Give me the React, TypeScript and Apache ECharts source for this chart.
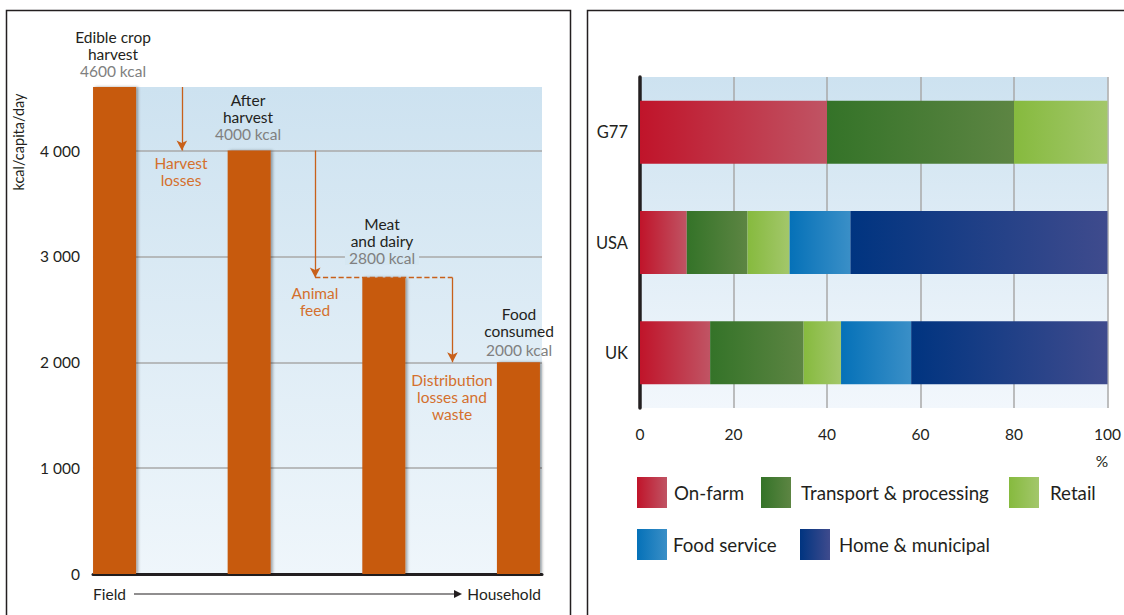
import React, { useEffect, useRef } from "react";
import * as echarts from "echarts";

// ---- Left panel data: food energy along the supply chain (kcal/capita/day)
const stageNames = ["Edible crop harvest", "After harvest", "Meat and dairy", "Food consumed"];
const stagePositions = [0, 1, 2, 3];
const stageValues = [4600, 4000, 2800, 2000];
// loss arrows: [x position, from value, to value]
const lossArrows = [
  [0.5, 4600, 4000],
  [1.49, 4000, 2800],
  [2.51, 2800, 2000],
];
const dashedLevel = 2800;

// ---- Right panel data: share of waste by stage (%)
const regions = ["UK", "USA", "G77"];
const onFarm = [15, 10, 40];
const transport = [20, 13, 40];
const retail = [8, 9, 20];
const foodService = [15, 13, 0];
const homeMunicipal = [42, 55, 0];
const wasteNames = ["On-farm", "Transport & processing", "Retail", "Food service", "Home & municipal"];

const FONT = 'Lato, "Noto Sans", "DejaVu Sans", sans-serif';
const INK = "#231f20";
const GREY = "#808080";
const ORANGE = "#d4702d";
const BAR = "#c75a10";

const grad = (a: string, b: string) =>
  new echarts.graphic.LinearGradient(0, 0, 1, 0, [
    { offset: 0, color: a },
    { offset: 1, color: b },
  ]);
const vgrad = (a: string, b: string) =>
  new echarts.graphic.LinearGradient(0, 0, 0, 1, [
    { offset: 0, color: a },
    { offset: 1, color: b },
  ]);

const wasteColors = [
  ["#c0142a", "#c05464"],
  ["#347328", "#5d8543"],
  ["#86ba3e", "#a3c76b"],
  ["#0571b8", "#3a8fc7"],
  ["#003480", "#3f4b8d"],
];
const wasteData = [onFarm, transport, retail, foodService, homeMunicipal];

const fmt = (v: number) => String(v).replace(/\B(?=(\d{3})+(?!\d))/g, " ");

function text(t: string, x: number, y: number, fill: string, extra: any = {}) {
  return {
    type: "text",
    x,
    y,
    z: 100,
    silent: true,
    style: {
      text: t,
      fill,
      fontSize: 15.5,
      fontFamily: FONT,
      align: "center",
      verticalAlign: "top",
      lineHeight: 17,
      ...extra,
    },
  };
}

function kcal(t: string, x: number, y: number, extra: any = {}) {
  return text(t, x, y, GREY, { verticalAlign: "middle", lineHeight: 15, ...extra });
}

export default function App() {
  const ref = useRef<HTMLDivElement>(null);
  useEffect(() => {
    if (!ref.current) return;
    const chart = echarts.init(ref.current, undefined, { renderer: "svg" });

    const legendPos = [
      [637, 477],
      [761, 477],
      [1009, 477],
      [637, 529],
      [800, 529],
    ];
    const legendTextPad = [2, 5, 6, 1, 4];

    const option: any = {
      animation: false,
      textStyle: { fontFamily: FONT },
      grid: [
        {
          left: 93,
          top: 87,
          width: 449,
          height: 487,
          show: true,
          borderWidth: 0,
          backgroundColor: vgrad("#cde2f0", "#eff6fb"),
        },
        {
          left: 640,
          top: 77,
          width: 468,
          height: 331,
          show: true,
          borderWidth: 0,
          backgroundColor: vgrad("#cde2f0", "#f2f7fc"),
        },
      ],
      xAxis: [
        {
          type: "value",
          gridIndex: 0,
          min: -0.16,
          max: 3.175,
          axisLine: { show: true, lineStyle: { color: INK, width: 3 } },
          axisTick: { show: false },
          axisLabel: { show: false },
          splitLine: { show: false },
        },
        {
          type: "value",
          gridIndex: 1,
          min: 0,
          max: 100,
          interval: 20,
          axisLine: { show: false },
          axisTick: { show: false },
          axisLabel: { color: INK, fontSize: 15.5, margin: 18, fontFamily: FONT },
          splitLine: { show: true, showMinLine: false, lineStyle: { color: "#a9a9a9", width: 1.5 } },
        },
      ],
      yAxis: [
        {
          type: "value",
          gridIndex: 0,
          min: 0,
          max: 4600,
          interval: 1000,
          axisLine: { show: false },
          axisTick: { show: false },
          axisLabel: {
            color: INK,
            fontSize: 15.5,
            margin: 13,
            fontFamily: FONT,
            showMaxLabel: false,
            formatter: (v: number) => (v === 4600 ? "" : fmt(v)),
          },
          splitLine: { show: true, showMaxLine: false, showMinLine: false, lineStyle: { color: "#a9a9a9", width: 1.5 } },
        },
        {
          type: "category",
          gridIndex: 1,
          data: regions,
          axisLine: { show: true, lineStyle: { color: INK, width: 3.5 } },
          axisTick: { show: false },
          axisLabel: { color: INK, fontSize: 16.5, margin: 12, fontFamily: FONT },
          splitLine: { show: false },
        },
      ],
      legend: wasteNames.map((n, i) => ({
        data: [n],
        left: legendPos[i][0],
        top: legendPos[i][1],
        padding: 0,
        itemWidth: 30,
        itemHeight: 31,
        icon: "rect",
        selectedMode: false,
        textStyle: { color: INK, fontSize: 18.7, fontFamily: FONT, padding: [0, 0, 0, legendTextPad[i]] },
      })),
      series: [
        {
          type: "bar",
          name: "kcal",
          xAxisIndex: 0,
          yAxisIndex: 0,
          barWidth: 43,
          clip: false,
          data: stagePositions.map((p, i) => [p, stageValues[i]]),
          itemStyle: {
            color: BAR,
            shadowColor: "rgba(0,0,0,0.35)",
            shadowBlur: 3,
            shadowOffsetX: 2,
          },
          markLine: {
            silent: true,
            animation: false,
            symbol: ["none", "arrow"],
            symbolSize: [8, 10],
            label: { show: false },
            lineStyle: { color: "#c8601a", width: 1.3, type: "solid" },
            data: [
              ...lossArrows.map((a) => [{ coord: [a[0], a[1]] }, { coord: [a[0], a[2]] }]),
              [
                { coord: [lossArrows[1][0], dashedLevel], symbol: "none", lineStyle: { type: "dashed", color: "#c8601a", width: 1.3 } },
                { coord: [lossArrows[2][0], dashedLevel], symbol: "none", lineStyle: { type: "dashed", color: "#c8601a", width: 1.3 } },
              ],
            ],
          },
        },
        ...wasteNames.map((n, i) => ({
          type: "bar",
          name: n,
          xAxisIndex: 1,
          yAxisIndex: 1,
          stack: "waste",
          barWidth: 63,
          data: wasteData[i],
          itemStyle: { color: grad(wasteColors[i][0], wasteColors[i][1]) },
        })),
      ],
      graphic: [
        {
          type: "rect",
          z: 100,
          silent: true,
          shape: { x: 6.5, y: 10.5, width: 564, height: 640 },
          style: { fill: "none", stroke: INK, lineWidth: 1.5 },
        },
        {
          type: "rect",
          z: 100,
          silent: true,
          shape: { x: 587.5, y: 10.5, width: 600, height: 640 },
          style: { fill: "none", stroke: INK, lineWidth: 1.5 },
        },
        // stage labels
        text("Edible crop\nharvest", 113, 28.5, INK),
        kcal("4600 kcal", 113, 70.5),
        text("After\nharvest", 248, 91.5, INK),
        kcal("4000 kcal", 248, 133.5),
        text("Meat\nand dairy", 382, 215.5, INK),
        kcal("2800 kcal", 382, 257.5, {
          backgroundColor: "#d5e7f2",
          padding: [0, 4],
        }),
        text("Food\nconsumed", 519, 305.5, INK),
        kcal("2000 kcal", 519, 350),
        // loss labels
        text("Harvest\nlosses", 181, 154.5, ORANGE),
        text("Animal\nfeed", 315, 284.5, ORANGE),
        text("Distribution\nlosses and\nwaste", 452, 371.5, ORANGE),
        // y axis name
        {
          type: "text",
          x: 18,
          y: 142,
          rotation: Math.PI / 2,
          z: 100,
          silent: true,
          style: {
            text: "kcal/capita/day",
            fill: INK,
            fontSize: 14.5,
            fontFamily: FONT,
            align: "center",
            verticalAlign: "middle",
          },
        },
        // Field -> Household
        text("Field", 93, 594, INK, { align: "left", verticalAlign: "middle" }),
        text("Household", 541, 594, INK, { align: "right", verticalAlign: "middle" }),
        {
          type: "line",
          z: 100,
          silent: true,
          shape: { x1: 134, y1: 594, x2: 456, y2: 594 },
          style: { stroke: INK, lineWidth: 1.2 },
        },
        {
          type: "polygon",
          z: 100,
          silent: true,
          shape: { points: [[454, 590], [462, 594], [454, 598]] },
          style: { fill: INK },
        },
        text("%", 1102, 461, INK, { verticalAlign: "middle" }),
      ],
    };

    chart.setOption(option);
    return () => chart.dispose();
  }, []);

  return (
    <div
      ref={ref}
      style={{ position: "fixed", left: 0, top: 0, width: 1124, height: 615, background: "#fff" }}
    />
  );
}
